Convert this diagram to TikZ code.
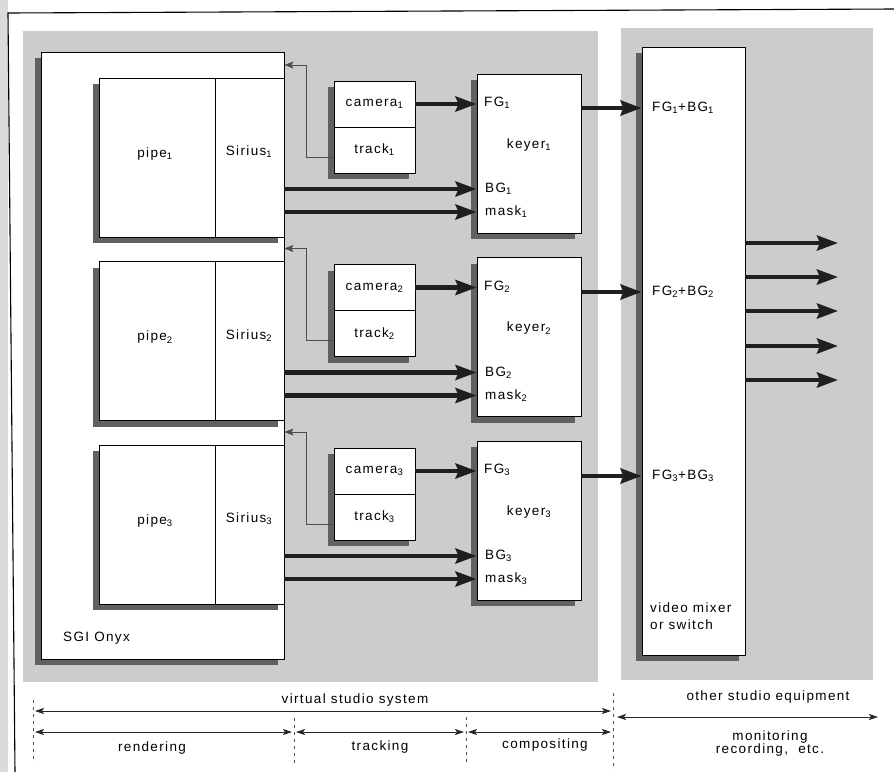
\documentclass[tikz,border=0pt]{standalone}
\usepackage{fontspec}
\setmainfont{Liberation Sans}[LetterSpace=10]
\usetikzlibrary{arrows.meta,shadows,fit}
\definecolor{bggray}{gray}{0.80}
\definecolor{shadowgray}{gray}{0.38}
\tikzset{
  box/.style={draw=black, line width=0.9pt, fill=white, inner sep=0pt},
  shad/.style={drop shadow={shadow xshift=-6pt, shadow yshift=-6pt, fill=shadowgray, opacity=1}},
  lbl/.style={inner sep=0pt, font=\fontsize{13.5}{15}\selectfont},
  bigarrow/.style={draw=black!88, line width=4.2pt, -{Stealth[length=21pt,width=15pt,inset=3pt]}},
  fbarrow/.style={draw=black!70, line width=0.7pt, -{Stealth[length=9pt,width=7pt,inset=2pt]}},
  dimarrow/.style={draw=black!85, line width=0.8pt, {Stealth[length=9pt,width=6pt,inset=2pt]}-{Stealth[length=9pt,width=6pt,inset=2pt]}},
  sepline/.style={draw=black!70, line width=0.7pt, dash pattern=on 3pt off 4pt},
}
\begin{document}
\begin{tikzpicture}[x=1pt,y=-1pt]
\useasboundingbox (0,0) rectangle (894,772);
\fill[white] (0,0) rectangle (894,772);
\fill[black!14] (0,0) rectangle (8,772);
\draw[line width=1.1pt] (894,9) -- (8,13) -- (15,772);
\fill[bggray] (23,31) rectangle (598,682);
\fill[bggray] (621,28) rectangle (873,680);

% SGI Onyx
\node[box, shad, fit={(41,52) (284,659)}] (sgi) {};
\node[lbl, anchor=west] (onyx) at (63,638) {SGI Onyx};

% video mixer
\node[box, shad, fit={(642,47) (745,655)}] (mixer) {};
\node[lbl, anchor=north west, align=left, font=\fontsize{13.5}{17}\selectfont] (vmx) at (650,603) {video mixer\\or switch};

\foreach \i/\dy/\my in {1/0/108, 2/183.5/292, 3/367/476} {
  \node[box, shad, fit={(99,78+\dy) (284,237+\dy)}] (row\i) {};
  \draw[line width=0.9pt] (215,78+\dy) -- (215,237+\dy);
  \node[lbl] (pipe\i) at (155,154+\dy) {pipe\textsubscript{\i}};
  \node[lbl] (sirius\i) at (249,152+\dy) {Sirius\textsubscript{\i}};
  \node[box, shad, fit={(334,81+\dy) (415,127+\dy)}] (camb\i) {};
  \node[lbl] (cam\i) at (camb\i) {camera\textsubscript{\i}};
  \node[box, shad, fit={(334,127+\dy) (415,173+\dy)}] (trackb\i) {};
  \node[lbl] (track\i) at (trackb\i) {track\textsubscript{\i}};
  \node[box, shad, fit={(477,74+\dy) (581,233+\dy)}] (keyer\i) {};
  \node[lbl, anchor=west] (fg\i) at (484,103+\dy) {FG\textsubscript{\i}};
  \node[lbl] (ky\i) at (529,145+\dy) {keyer\textsubscript{\i}};
  \node[lbl, anchor=west] (bg\i) at (485,189+\dy) {BG\textsubscript{\i}};
  \node[lbl, anchor=west] (mask\i) at (485,212+\dy) {mask\textsubscript{\i}};
  \node[lbl, anchor=west] (mx\i) at (652,\my) {FG\textsubscript{\i}+BG\textsubscript{\i}};
  \coordinate (fbt\i) at (306,65+\dy);
}
\foreach \i in {1,2,3} {
  \draw[bigarrow] (camb\i.east) -- (camb\i.east -| keyer\i.west);
  \draw[bigarrow] (bg\i.west -| sgi.east) -- (bg\i.west -| keyer\i.west);
  \draw[bigarrow] (mask\i.west -| sgi.east) -- (mask\i.west -| keyer\i.west);
  \draw[bigarrow] (mx\i.west -| keyer\i.east) -- (mx\i.west -| mixer.west);
  \draw[fbarrow] ([yshift=-7pt]trackb\i.west) -| (fbt\i) -- (fbt\i -| sgi.east);
}
\foreach \k/\oy in {1/243,2/277,3/311,4/346,5/380} {
  \coordinate (out\k) at (838,\oy);
  \draw[bigarrow] (out\k -| mixer.east) -- (out\k);
}

% bottom annotations
\draw[sepline] (33,700) -- (33,763);
\draw[sepline] (294,718) -- (294,763);
\draw[sepline] (466,717) -- (466,763);
\draw[sepline] (613,693) -- (613,770);
\coordinate (vL) at (35,711);
\coordinate (vR) at (611,711);
\coordinate (rL) at (35,732);
\coordinate (rR) at (292,732);
\coordinate (tL) at (296,732);
\coordinate (tR) at (464,732);
\coordinate (cL) at (468,732);
\coordinate (cR) at (611,732);
\coordinate (oL) at (617,717);
\coordinate (oR) at (878,717);
\draw[dimarrow] (vL) -- (vR);
\draw[dimarrow] (rL) -- (rR);
\draw[dimarrow] (tL) -- (tR);
\draw[dimarrow] (cL) -- (cR);
\draw[dimarrow] (oL) -- (oR);
\node[lbl] (vss) at (355,700) {virtual studio system};
\node[lbl] (ose) at (768,697) {other studio equipment};
\node[lbl] (rend) at (152,748) {rendering};
\node[lbl] (trk) at (380,747) {tracking};
\node[lbl] (comp) at (545,745) {compositing};
\node[lbl, align=center, font=\fontsize{13.5}{13}\selectfont] (mon) at (770,743) {monitoring\\recording,\ \ etc.};
\end{tikzpicture}
\end{document}
